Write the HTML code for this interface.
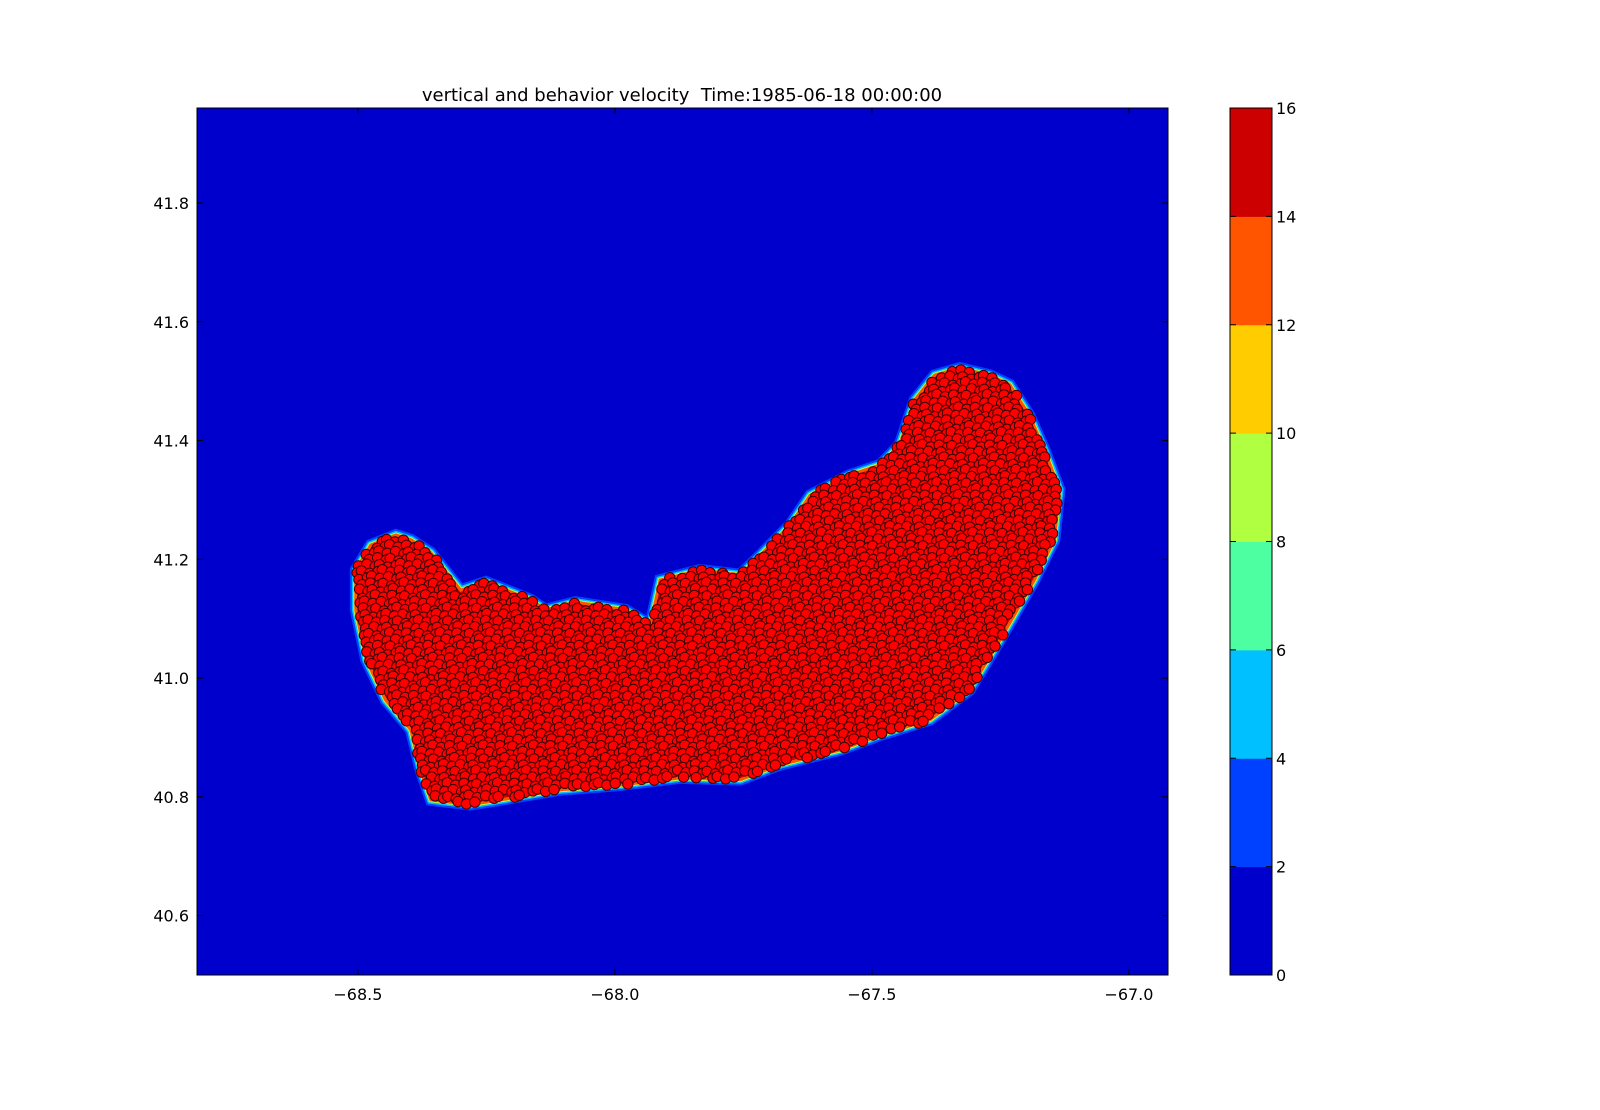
<!DOCTYPE html>
<html><head><meta charset="utf-8">
<style>
html,body{margin:0;padding:0;background:#fff;}
body{width:1600px;height:1105px;overflow:hidden;font-family:"Liberation Sans","DejaVu Sans",sans-serif;}
</style></head>
<body>
<svg id="chart" width="1600" height="1105" xmlns="http://www.w3.org/2000/svg" font-family="DejaVu Sans, Liberation Sans, sans-serif">
  <text x="682" y="101" text-anchor="middle" font-size="18" style="white-space:pre">vertical and behavior velocity  Time:1985-06-18 00:00:00</text>
  <g id="plot"></g>
  <g id="axes"></g>
  <g id="cbar"></g>
</svg>
<script>
// axis domains
const xDomain = [-68.813, -66.924];
const yDomain = [40.50, 41.96];
const xTicks = [-68.5, -68.0, -67.5, -67.0];
const xTickLabels = ["\u221268.5", "\u221268.0", "\u221267.5", "\u221267.0"];
const yTicks = [40.6, 40.8, 41.0, 41.2, 41.4, 41.6, 41.8];
const yTickLabels = ["40.6", "40.8", "41.0", "41.2", "41.4", "41.6", "41.8"];
const cbarLevels = [0, 2, 4, 6, 8, 10, 12, 14, 16];
const cbarColors = ["#0000cc", "#0040ff", "#00c0ff", "#4dffa0", "#b0ff40", "#ffcc00", "#ff5500", "#cc0000"];
// particle region outline (lon, lat)
const outlineLon = [-68.504,-68.475,-68.426,-68.397,-68.358,-68.300,-68.251,-68.164,-68.135,-68.077,-67.980,-67.931,-67.912,-67.834,-67.756,-67.717,-67.659,-67.620,-67.543,-67.484,-67.446,-67.417,-67.378,-67.329,-67.271,-67.232,-67.194,-67.164,-67.135,-67.145,-67.184,-67.251,-67.310,-67.387,-67.484,-67.562,-67.679,-67.756,-67.873,-67.989,-68.106,-68.222,-68.281,-68.358,-68.378,-68.397,-68.446,-68.484,-68.504];
const outlineLat = [41.182,41.224,41.241,41.233,41.211,41.148,41.162,41.132,41.115,41.128,41.115,41.090,41.165,41.182,41.174,41.207,41.258,41.308,41.342,41.359,41.393,41.468,41.510,41.522,41.510,41.494,41.443,41.384,41.317,41.233,41.165,41.064,40.980,40.930,40.904,40.879,40.854,40.829,40.832,40.820,40.812,40.795,40.787,40.795,40.845,40.913,40.963,41.031,41.115];

const NS="http://www.w3.org/2000/svg";
const L=197,R=1168,T=108,B=975;
const sx=v=>L+(v-xDomain[0])/(xDomain[1]-xDomain[0])*(R-L);
const sy=v=>B-(v-yDomain[0])/(yDomain[1]-yDomain[0])*(B-T);
function mk(tag,attrs,parent){const e=document.createElementNS(NS,tag);for(const k in attrs)e.setAttribute(k,attrs[k]);parent.appendChild(e);return e;}
const plot=document.getElementById('plot'),axes=document.getElementById('axes'),cbar=document.getElementById('cbar');

const bg=mk('rect',{x:L,y:T,width:R-L,height:B-T,fill:cbarColors[0]},plot);



const pts=outlineLon.map((lo,i)=>[sx(lo),sy(outlineLat[i])]);
const ptsStr=pts.map(p=>p.join(',')).join(' ');
const rims=[[12,cbarColors[1]],[8,cbarColors[2]],[5,cbarColors[4]],[3,cbarColors[6]]];
rims.forEach((r,i)=>{
  const p=mk('polygon',{points:ptsStr,fill:cbarColors[7],stroke:r[1],'stroke-width':r[0],'stroke-linejoin':'miter'},plot);
  
  
});

function inside(x,y){let c=false;for(let i=0,j=pts.length-1;i<pts.length;j=i++){const [xi,yi]=pts[i],[xj,yj]=pts[j];if(((yi>y)!=(yj>y))&&(x<(xj-xi)*(y-yi)/(yj-yi)+xi))c=!c;}return c;}
const pg=mk('g',{},plot);


const step=7.2;
let k=0;
for(let y=T;y<B;y+=step*0.87){
  const row=Math.round((y-T)/(step*0.87));
  for(let x=L+(row%2?step/2:0);x<R;x+=step){
    k++;
    const jx=((k*37)%7-3)*0.6, jy=((k*53)%7-3)*0.6;
    const px=x+jx, py=y+jy;
    if(inside(px,py)){
      const c=mk('circle',{cx:px.toFixed(1),cy:py.toFixed(1),r:5.2,fill:'#ff0000',stroke:'#3a0000','stroke-width':1},pg);
      
      
    }
  }
}

const fr=mk('rect',{x:L,y:T,width:R-L,height:B-T,fill:'none',stroke:'#000','stroke-width':1},axes);


xTicks.forEach((v,i)=>{
  const x=sx(v);
  mk('line',{x1:x,x2:x,y1:B,y2:B-6,stroke:'#000'},axes);
  mk('line',{x1:x,x2:x,y1:T,y2:T+6,stroke:'#000'},axes);
  const t=mk('text',{x:x,y:B+25,'text-anchor':'middle','font-size':16},axes);
  t.textContent=xTickLabels[i];
  
  
});
yTicks.forEach((v,i)=>{
  const y=sy(v);
  mk('line',{x1:L,x2:L+6,y1:y,y2:y,stroke:'#000'},axes);
  mk('line',{x1:R,x2:R-6,y1:y,y2:y,stroke:'#000'},axes);
  const t=mk('text',{x:L-8,y:y+6,'text-anchor':'end','font-size':16},axes);
  t.textContent=yTickLabels[i];
  
  
});

const CL=1230,CR=1272;
const cy=v=>B-(v-cbarLevels[0])/(cbarLevels[cbarLevels.length-1]-cbarLevels[0])*(B-T);
cbarColors.forEach((c,i)=>{
  const r=mk('rect',{x:CL,y:cy(cbarLevels[i+1]),width:CR-CL,height:cy(cbarLevels[i])-cy(cbarLevels[i+1])+0.5,fill:c},cbar);
  
  
});
mk('rect',{x:CL,y:T,width:CR-CL,height:B-T,fill:'none',stroke:'#000'},cbar);
cbarLevels.forEach(v=>{
  const y=cy(v);
  mk('line',{x1:CR-6,x2:CR,y1:y,y2:y,stroke:'#000'},cbar);
  mk('line',{x1:CL,x2:CL+6,y1:y,y2:y,stroke:'#000'},cbar);
  const t=mk('text',{x:CR+4,y:y+6,'font-size':16},cbar);
  t.textContent=String(v);
  
  
});
</script>
</body></html>
